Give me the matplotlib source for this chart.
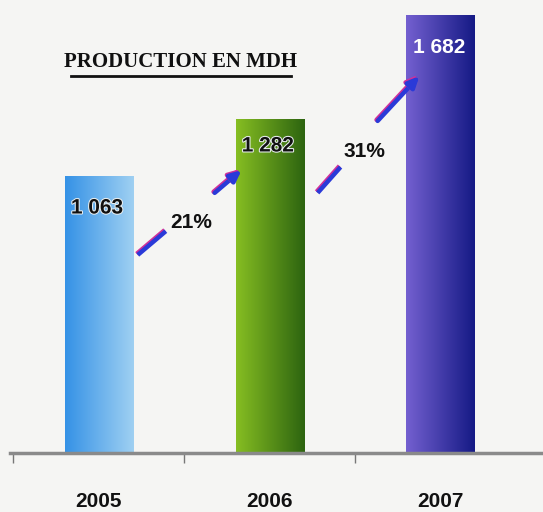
import numpy as np
import matplotlib.pyplot as plt
import matplotlib.patheffects as pe
from matplotlib.colors import LinearSegmentedColormap

# Donnees
annees = ['2005', '2006', '2007']
production = [1063, 1282, 1682]
etiquettes = ['1 063', '1 282', '1 682']
hausses = ['21%', '31%']

couleurs = [('#3592e6', '#9fd0f2'), ('#86be22', '#2d6410'), ('#7460d0', '#151a85')]
couleurs_texte = ['#111111', '#111111', 'white']

narrow = ['Liberation Sans Narrow', 'Liberation Sans', 'DejaVu Sans']
fond = '#f5f5f3'

fig = plt.figure(figsize=(5.43, 5.12), dpi=100, facecolor=fond)
ax = fig.add_axes([10 / 543, 59 / 512, 533 / 543, 453 / 512])
ax.set_facecolor(fond)

x = np.arange(len(annees))
largeur = 0.4
barres = ax.bar(x, production, width=largeur, color='none', edgecolor='none')

# degrade horizontal dans chaque barre
grad = np.linspace(0, 1, 256).reshape(1, -1)
for b, (c1, c2) in zip(barres, couleurs):
    cmap = LinearSegmentedColormap.from_list('g', [c1, c2])
    x0 = b.get_x()
    im = ax.imshow(grad, cmap=cmap, aspect='auto', extent=[x0, x0 + b.get_width(), 0, b.get_height()],
                   zorder=2)
    im.set_clip_path(b)
ax.set_xlim(-0.52, 2.6)
ax.set_ylim(0, 1738)

# valeurs
decal = [123, 104, 128]
for i in range(len(annees)):
    t = ax.text(x[i] - 0.01, production[i] - decal[i], etiquettes[i], ha='center', va='center',
                fontsize=15, fontweight='bold', color=couleurs_texte[i], family=narrow, zorder=3)
    if i < 2:
        t.set_path_effects([pe.withStroke(linewidth=1.5, foreground='#e8eef0')])

# fleches de croissance, coupees par le pourcentage
effets = [pe.SimpleLineShadow(offset=(-0.8, 0.8), shadow_color='#d0309a', alpha=1), pe.Normal()]
segments1 = [((0.228, 760), (0.392, 851)), ((1.281, 998), (1.415, 1097))]
segments2 = [((0.678, 998), (0.836, 1086)), ((1.632, 1274), (1.877, 1447))]
pos_pct = [(0.538, 883), (1.556, 1155)]
for s1, s2, p, h in zip(segments1, segments2, pos_pct, hausses):
    ax.plot([s1[0][0], s1[1][0]], [s1[0][1], s1[1][1]], color='#2a3ad8', lw=3.2,
            solid_capstyle='butt', path_effects=effets, zorder=4)
    ax.annotate('', xy=s2[1], xytext=s2[0], zorder=4,
                arrowprops=dict(arrowstyle='-|>,head_width=0.3,head_length=0.65', lw=3.2,
                                color='#2a3ad8', shrinkA=0, shrinkB=0, path_effects=effets))
    ax.text(p[0], p[1], h, ha='center', va='center', fontsize=15, fontweight='bold',
            color='#111111', family=narrow)

# titre souligne
fig.text(181 / 543, 1 - 62 / 512, 'PRODUCTION EN MDH', ha='center', va='center', fontsize=15,
         fontweight='bold', family=['Liberation Serif'], color='#111111')
fig.add_artist(plt.Line2D([71 / 543, 291 / 543], [1 - 76 / 512, 1 - 76 / 512], color='#111111', lw=2))

# axes
for s in ['top', 'right', 'left']:
    ax.spines[s].set_visible(False)
ax.spines['bottom'].set_color('#8a8a8a')
ax.spines['bottom'].set_linewidth(2.5)
ax.set_yticks([])
ax.set_xticks(x)
ax.set_xticklabels(annees, fontsize=15, fontweight='bold', family=narrow, color='#111111')
ax.tick_params(axis='x', which='major', length=0, pad=28)
ax.set_xticks([-0.5, 0.5, 1.5], minor=True)
ax.tick_params(axis='x', which='minor', length=7, width=1, color='#777777')

fig.savefig('out.png', dpi=100, facecolor=fig.get_facecolor())
